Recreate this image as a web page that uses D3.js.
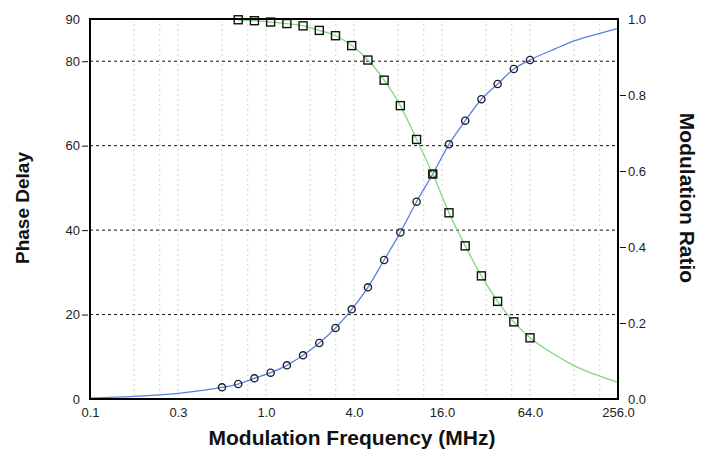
<!DOCTYPE html>
<html><head><meta charset="utf-8">
<script src="https://cdn.jsdelivr.net/npm/d3@7"></script>
<style>
html,body{margin:0;padding:0;background:#fff;}
svg{display:block;font-family:"Liberation Sans",Arial,sans-serif;}
</style></head>
<body>
<svg id="chart" width="701" height="451"></svg>
<script>
// ---- data ----
const sampleFreq = [0.5, 0.6455, 0.8333, 1.0758, 1.3889, 1.793, 2.3148, 2.9884, 3.858, 4.981,
                    6.43, 8.301, 10.72, 13.84, 17.86, 23.06, 29.77, 38.43, 49.61, 64.0];
const phaseDelay = [2.77, 3.55, 4.90, 6.23, 7.98, 10.35, 13.26, 16.82, 21.24, 26.45,
                    32.92, 39.45, 46.73, 53.29, 60.32, 65.91, 71.0, 74.6, 78.16, 80.29];
const modRatio = [null, 0.998, 0.9955, 0.992, 0.988, 0.982, 0.970, 0.956, 0.930, 0.892,
                  0.839, 0.772, 0.683, 0.592, 0.490, 0.403, 0.324, 0.257, 0.203, 0.161];
// fitted-curve readings outside the sampled range
const phaseCurveLowFreq = [0.0625, 0.125, 0.25];
const phaseCurveLow = [0.2, 0.6, 1.35];
const curveHighFreq = [96, 128, 192, 256];
const phaseCurveHigh = [83.0, 84.8, 86.6, 87.8];
const ratioCurveHigh = [0.115, 0.088, 0.060, 0.044];

const xTickValues = [0.0625, 0.25, 1, 4, 16, 64, 256];
const xTickLabels = ["0.1", "0.3", "1.0", "4.0", "16.0", "64.0", "256.0"];
const xMinorGrid = [0.125, 0.1875, 0.25, 0.5, 0.75, 1, 2, 3, 4, 8, 12, 16, 32, 48, 64, 128, 192];
const yLeftTicks = [0, 20, 40, 60, 80, 90];
const yRightTicks = [0, 0.2, 0.4, 0.6, 0.8, 1.0];
const yGrid = [20, 40, 60, 80];

// ---- layout ----
const L = 90, R = 618, T = 19, B = 399;
const svg = d3.select("#chart");
const x = d3.scaleLog().base(4).domain([0.0625, 256]).range([L, R]);
const yL = d3.scaleLinear().domain([0, 90]).range([B, T]);
const yR = d3.scaleLinear().domain([0, 1]).range([B, T]);

// vertical faint grid
svg.append("g").selectAll("line").data(xMinorGrid).join("line")
  .attr("x1", d => x(d)).attr("x2", d => x(d)).attr("y1", T).attr("y2", B)
  .attr("stroke", "#d2d2d2").attr("stroke-width", 1).attr("stroke-dasharray", "2,3");

// horizontal dashed grid
svg.append("g").selectAll("line").data(yGrid).join("line")
  .attr("x1", L).attr("x2", R).attr("y1", d => yL(d)).attr("y2", d => yL(d))
  .attr("stroke", "#111").attr("stroke-width", 1).attr("stroke-dasharray", "3,3");

// axes
const axL = d3.axisLeft(yL).tickValues(yLeftTicks).tickSize(8).tickPadding(2).tickFormat(d3.format("d"));
const gL = svg.append("g").attr("transform", `translate(${L},0)`).call(axL);
const axR = d3.axisRight(yR).tickValues(yRightTicks).tickSize(8).tickPadding(2).tickFormat(d3.format(".1f"));
const gR = svg.append("g").attr("transform", `translate(${R},0)`).call(axR);
const axB = d3.axisBottom(x).tickValues(xTickValues).tickSize(0).tickPadding(9)
  .tickFormat(d => xTickLabels[xTickValues.indexOf(d)]);
const gB = svg.append("g").attr("transform", `translate(0,${B})`).call(axB);
[gL, gR, gB].forEach(g => {
  g.select(".domain").remove();
  g.selectAll("text").attr("font-size", 13).attr("fill", "#222")
    .attr("font-family", "'Liberation Sans',Arial,sans-serif");
  g.selectAll("line").attr("stroke", "#111");
});
gL.selectAll(".tick line").attr("x1", -2);
gR.selectAll(".tick line").attr("x1", 2);
gL.selectAll(".tick").filter(d => d === 0 || d === 90).select("line").remove();
gR.selectAll(".tick").filter(d => d === 0 || d === 1).select("line").remove();

// curves
const phasePts = phaseCurveLowFreq.map((f, i) => [f, phaseCurveLow[i]])
  .concat(sampleFreq.map((f, i) => [f, phaseDelay[i]]))
  .concat(curveHighFreq.map((f, i) => [f, phaseCurveHigh[i]]));
const ratioPts = sampleFreq.map((f, i) => [f, modRatio[i]]).filter(d => d[1] !== null)
  .concat(curveHighFreq.map((f, i) => [f, ratioCurveHigh[i]]));

svg.append("path").datum(phasePts)
  .attr("d", d3.line().x(d => x(d[0])).y(d => yL(d[1])).curve(d3.curveMonotoneX))
  .attr("fill", "none").attr("stroke", "#5b80e0").attr("stroke-width", 1.3);
svg.append("path").datum(ratioPts)
  .attr("d", d3.line().x(d => x(d[0])).y(d => yR(d[1])).curve(d3.curveMonotoneX))
  .attr("fill", "none").attr("stroke", "#7fd87f").attr("stroke-width", 1.3);

// markers
svg.append("g").selectAll("circle").data(sampleFreq).join("circle")
  .attr("cx", d => x(d)).attr("cy", (d, i) => yL(phaseDelay[i])).attr("r", 3.6)
  .attr("fill", "none").attr("stroke", "#222").attr("stroke-width", 1.4);
const sq = 8;
svg.append("g").selectAll("rect").data(ratioPts.filter(d => d[0] <= 64)).join("rect")
  .attr("x", d => x(d[0]) - sq / 2).attr("y", d => yR(d[1]) - sq / 2)
  .attr("width", sq).attr("height", sq)
  .attr("fill", "none").attr("stroke", "#111").attr("stroke-width", 1.4);

// frame
svg.append("rect").attr("x", L).attr("y", T).attr("width", R - L).attr("height", B - T)
  .attr("fill", "none").attr("stroke", "#000").attr("stroke-width", 2);

// titles
svg.append("text").attr("transform", "translate(29,208) rotate(-90)")
  .attr("text-anchor", "middle").attr("font-weight", "bold").attr("font-size", 19)
  .attr("fill", "#111").text("Phase Delay");
svg.append("text").attr("transform", "translate(680,198) rotate(90)")
  .attr("text-anchor", "middle").attr("font-weight", "bold").attr("font-size", 21)
  .attr("fill", "#111").text("Modulation Ratio");
svg.append("text").attr("x", 352).attr("y", 445)
  .attr("text-anchor", "middle").attr("font-weight", "bold").attr("font-size", 21)
  .attr("fill", "#111").text("Modulation Frequency (MHz)");
</script>
</body></html>
